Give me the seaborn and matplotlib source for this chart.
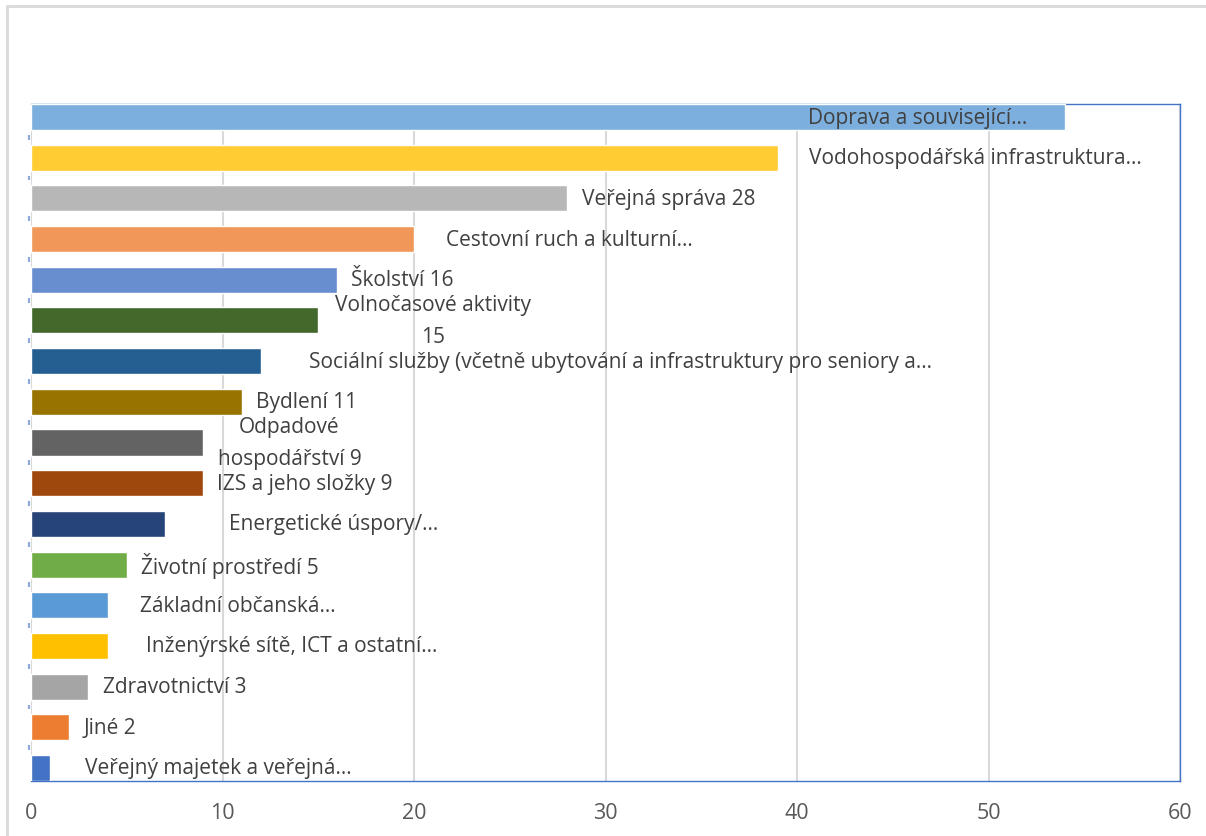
import matplotlib
matplotlib.use("Agg")
import matplotlib.pyplot as plt
import matplotlib.transforms as mtransforms
from matplotlib.patches import Rectangle
import numpy as np
import pandas as pd
import seaborn as sns

# data (top -> bottom)
categories = [
    "Doprava a související…",
    "Vodohospodářská infrastruktura…",
    "Veřejná správa",
    "Cestovní ruch a kulturní…",
    "Školství",
    "Volnočasové aktivity",
    "Sociální služby (včetně ubytování a infrastruktury pro seniory a…",
    "Bydlení",
    "Odpadové hospodářství",
    "IZS a jeho složky",
    "Energetické úspory/…",
    "Životní prostředí",
    "Základní občanská…",
    "Inženýrské sítě, ICT a ostatní…",
    "Zdravotnictví",
    "Jiné",
    "Veřejný majetek a veřejná…",
]
values = [54, 39, 28, 20, 16, 15, 12, 11, 9, 9, 7, 5, 4, 4, 3, 2, 1]

# label texts as shown on the chart (some truncated, some wrapped)
label_texts = [
    "Doprava a související…",
    "Vodohospodářská infrastruktura…",
    "Veřejná správa 28",
    "Cestovní ruch a kulturní…",
    "Školství 16",
    "Volnočasové aktivity\n15",
    "Sociální služby (včetně ubytování a infrastruktury pro seniory a…",
    "Bydlení 11",
    "Odpadové\nhospodářství 9",
    "IZS a jeho složky 9",
    "Energetické úspory/…",
    "Životní prostředí 5",
    "Základní občanská…",
    "Inženýrské sítě, ICT a ostatní…",
    "Zdravotnictví 3",
    "Jiné 2",
    "Veřejný majetek a veřejná…",
]
# label centre x (data units), labels were dragged by hand in the original
label_x = [46.3, 49.3, 33.3, 28.1, 19.4, 21.0, 30.8, 14.4, 13.5, 14.3,
           15.8, 10.4, 10.8, 13.6, 7.5, 4.1, 9.8]

colors = [
    "#7CAFDD", "#FFCD33", "#B7B7B7", "#F1975A", "#698ED0", "#43682B",
    "#255E91", "#997300", "#636363", "#9E480E", "#264478", "#70AD47",
    "#5B9BD5", "#FFC000", "#A5A5A5", "#ED7D31", "#4472C4",
]

df = pd.DataFrame({"Kategorie": categories, "Počet": values})

sns.set_theme(style="white")
plt.rcParams["font.family"] = ["Open Sans", "DejaVu Sans"]

W, H = 1206, 837
fig = plt.figure(figsize=(W / 100, H / 100), dpi=100)
ax = fig.add_axes([31 / W, 1 - 782 / H, (1180 - 31) / W, (782 - 105) / H])

# outer chart frame
fig.patches.append(Rectangle((7 / W, -0.1), 1.2, 1 - 7 / H + 0.1,
                             transform=fig.transFigure, fill=False,
                             edgecolor="#D9D9D9", lw=2, zorder=0))

sns.barplot(data=df, y="Kategorie", x="Počet", hue="Kategorie",
            palette=colors, saturation=1, legend=False, width=0.64,
            orient="h", edgecolor="white", linewidth=1.0, ax=ax, zorder=3)

ax.set_xlim(0, 60)
ax.set_ylim(len(categories) - 1 + 0.32, -0.32)
ax.set_xticks(range(0, 61, 10))
ax.set_yticks([])
ax.set_xlabel("")
ax.set_ylabel("")
ax.tick_params(axis="x", length=0, pad=15, labelsize=15.5, labelcolor="#595959")

ax.xaxis.grid(True, color="#D9D9D9", lw=1.5, zorder=0)
ax.set_axisbelow(True)

for side in ["top", "right", "bottom"]:
    ax.spines[side].set_visible(True)
    ax.spines[side].set_color("#4472C4")
    ax.spines[side].set_linewidth(1.0)
ax.spines["left"].set_visible(False)

# category axis: only short marks between the bars remain visible
bounds = np.arange(len(categories) - 1) + 0.5
trans = mtransforms.blended_transform_factory(ax.transAxes, ax.transData)
ax.vlines(np.full(len(bounds), -0.0017), bounds - 0.06, bounds + 0.06,
          transform=trans, color="#8EA9DB", lw=1.6, clip_on=False, zorder=4)

for i, (txt, lx) in enumerate(zip(label_texts, label_x)):
    ax.text(lx, i, txt, ha="center", va="center", fontsize=15,
            color="#404040", linespacing=1.65, zorder=5)

fig.savefig("out.png", dpi=100)
